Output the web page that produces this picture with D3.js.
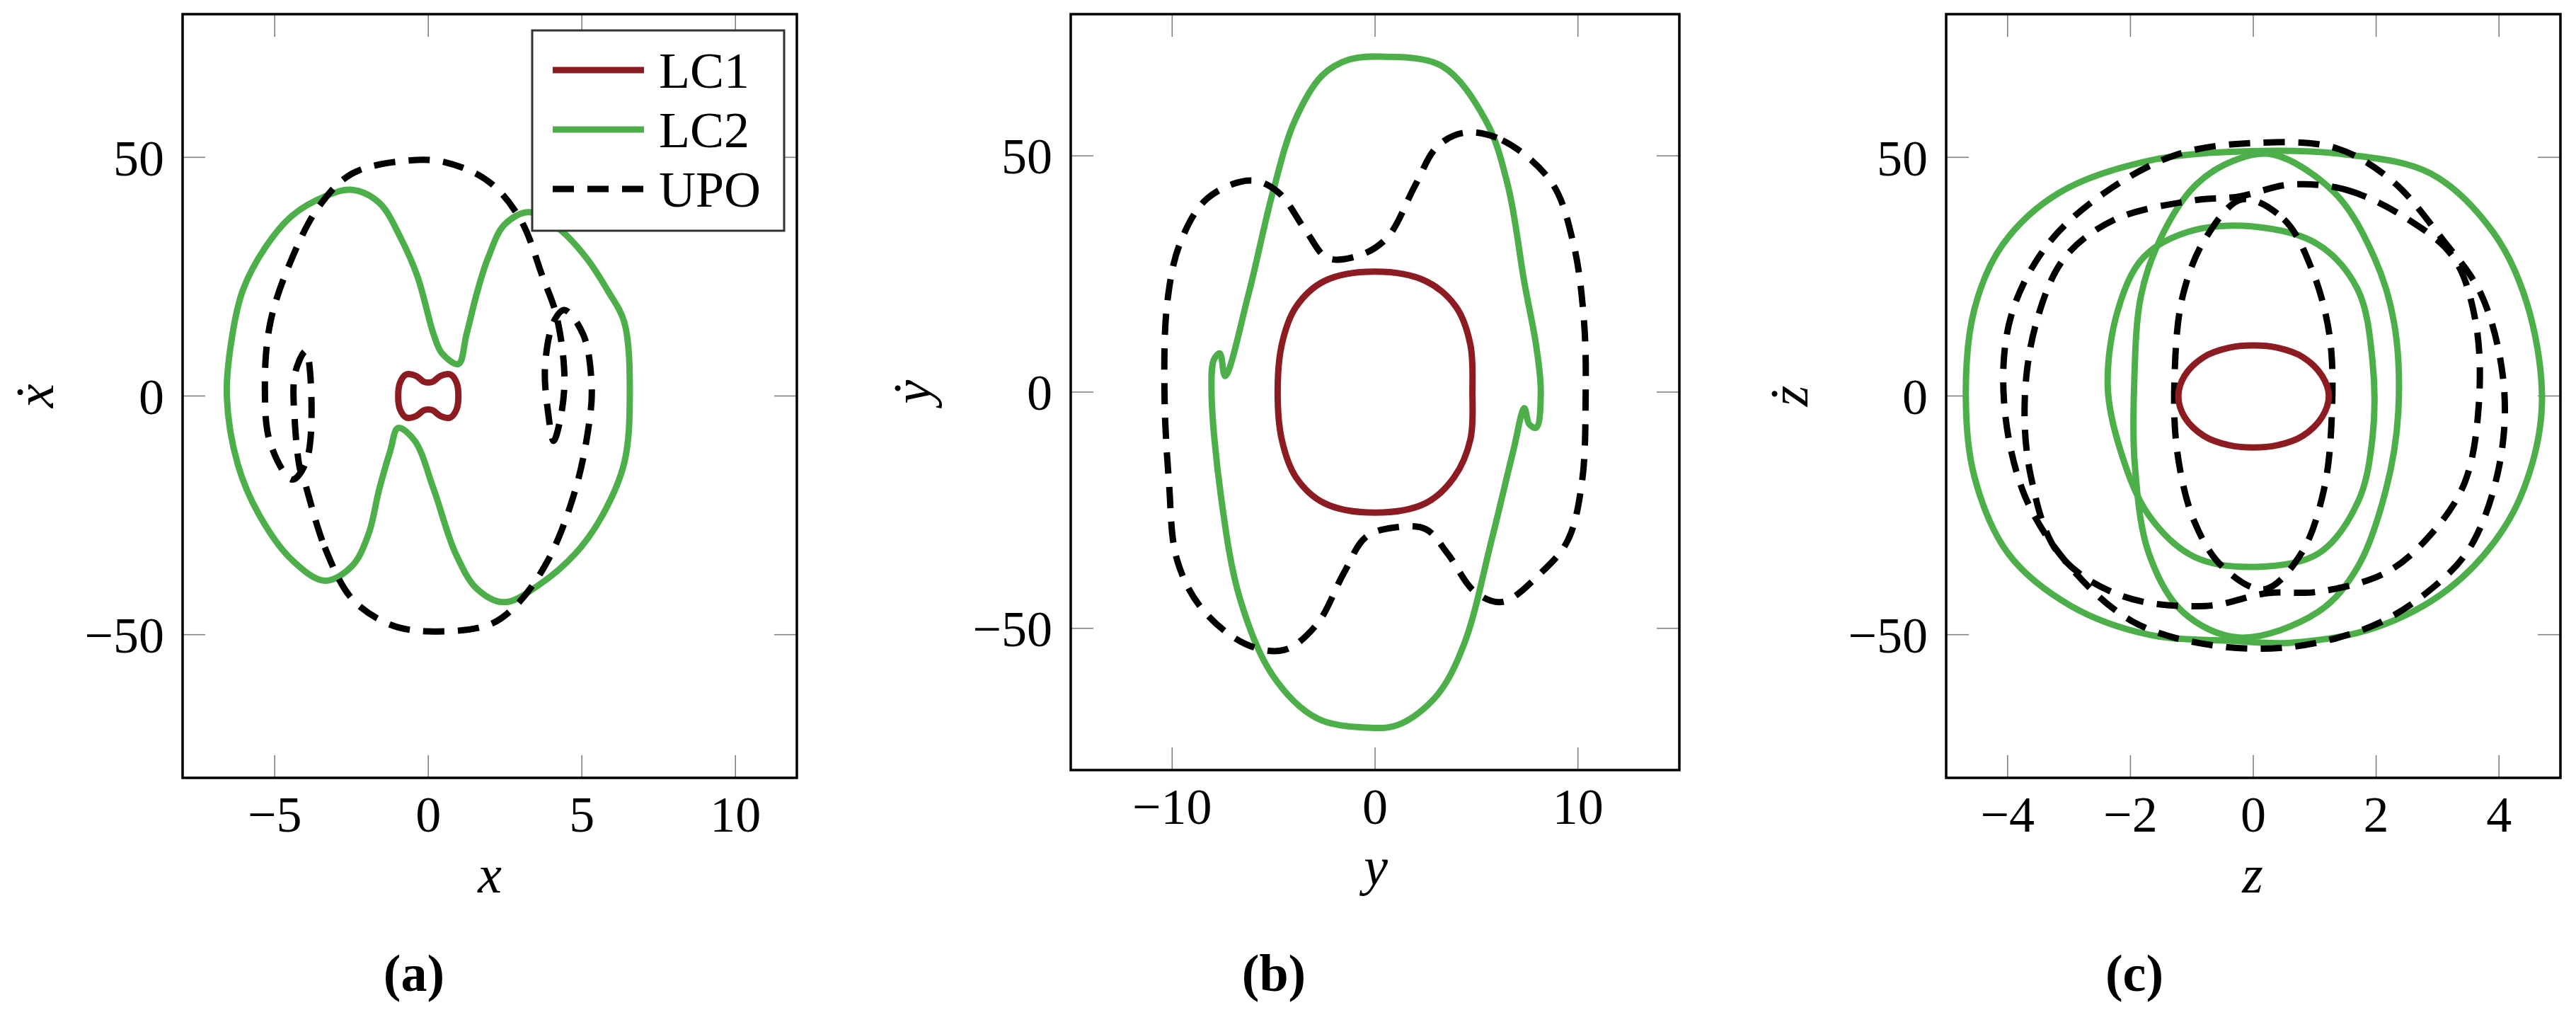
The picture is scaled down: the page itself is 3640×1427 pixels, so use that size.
<!DOCTYPE html>
<html>
<head>
<meta charset="utf-8">
<script src="https://cdn.jsdelivr.net/npm/d3@7"></script>
<style>
  body { margin: 0; background: #fff; }
  text { font-family: "Liberation Serif", "DejaVu Serif", serif; fill: #000; }
</style>
</head>
<body>
<svg id="chart" width="3640" height="1427"></svg>
<script>
// ---- data ----
const seriesNames = ['LC1', 'LC2', 'UPO'];

// panel (a): x vs x-dot
const aLC1 = [[[0.98,0],[0.92,2.8],[0.72,4.5],[0.4,4.2],[0.15,3],[0,2.8],[-0.15,3],[-0.4,4.2],[-0.72,4.5],[-0.92,2.8],
  [-0.98,0],[-0.92,-2.8],[-0.72,-4.5],[-0.4,-4.2],[-0.15,-3],[0,-2.8],[0.15,-3],[0.4,-4.2],[0.72,-4.5],[0.92,-2.8]]];
const aLC2 = [[[6.56,0],[6.38,15.5],[5.85,22],[5.14,29],[4.26,35],[3.28,38.5],[2.48,35.9],[1.95,29],[1.6,22],
  [1.24,12.8],[0.98,6.7],[0.44,9],[0.18,12.8],[-0.35,25],[-0.89,33],[-1.6,40.5],[-2.48,43.2],[-3.37,41.8],
  [-4.43,37.8],[-5.32,31],[-6.03,22.3],[-6.38,12.8],[-6.56,0],[-6.2,-14.4],[-5.5,-25],[-4.43,-34.4],
  [-3.37,-38.7],[-2.48,-35.6],[-1.95,-29],[-1.6,-19.6],[-1.24,-11.5],[-0.98,-6.7],[-0.44,-9.4],[0.18,-19.6],
  [0.89,-33],[1.6,-40.5],[2.48,-43.2],[3.55,-39.8],[4.79,-33],[5.67,-25],[6.38,-14]]];
const aUPO = [[[-4.08,-16.9],[-3.37,-31.7],[-2.48,-42.5],[-1.24,-47.9],[0,-49.3],[1.95,-48],[2.84,-44],
  [3.9,-34.4],[4.79,-19.6],[5.23,-6],[5.32,2],[5.05,12.8],[4.43,18],[4.08,15.5],[3.8,6],[3.9,-3.4],
  [4.08,-9.4],[4.34,-3.4],[4.43,4.7],[4.17,16.9],[3.72,25],[3.0,37],[1.95,45],[0.53,49],[-0.7,49.3],
  [-2.48,46.6],[-3.55,39.8],[-4.43,29],[-5.14,15.5],[-5.32,2],[-5.14,-10],[-4.43,-17.5],[-3.99,-14],
  [-3.8,-3.4],[-3.99,9.4],[-4.34,4.7],[-4.34,-6],[-4.17,-15.5]]];

// panel (b): y vs y-dot
const bLC1 = [[[4.8,0],[4.7,10],[4.0,18],[2.5,23.5],[0,25.5],[-2.5,23.5],[-3.9,18],[-4.6,10],[-4.8,0],
  [-4.6,-10],[-3.9,-18],[-2.5,-23.5],[0,-25.5],[2.5,-23.5],[3.9,-18],[4.7,-10]]];
const bLC2 = [[[0.35,71],[3.3,69],[5.47,57.4],[6.55,43.7],[7.36,23.2],[7.95,9.6],[8.17,0],[7.95,-7.5],
  [7.6,-6.8],[7.36,-3.4],[6.82,-12.3],[5.74,-31.4],[4.39,-53.3],[3.05,-64.2],[1.16,-70.4],[-0.46,-71],
  [-2.88,-69],[-5.04,-60],[-6.66,-43.7],[-7.6,-21.9],[-8.06,0],[-7.95,6.8],[-7.65,8.2],[-7.39,3.4],
  [-6.25,20.5],[-5.04,42.3],[-3.96,57.4],[-2.61,67],[-1.27,70.4]]];
const bUPO = [[[4.39,54.9],[6.28,53.3],[8.7,44.4],[9.78,31.4],[10.3,15],[10.38,-1.4],[10.2,-19],[9.5,-31.4],
  [8.17,-38.3],[6.28,-44.4],[4.93,-42.3],[3.58,-34.2],[2.5,-29],[0.89,-28.7],[-0.46,-30.7],[-1.54,-38.3],
  [-2.88,-49.2],[-4.5,-54.6],[-6.39,-53.3],[-8.54,-45.8],[-9.76,-35.5],[-10.16,-19],[-10.38,0],[-10.24,19],
  [-9.62,31.4],[-8.27,41],[-6.12,44.8],[-4.77,42.3],[-3.42,34.2],[-2.34,28.4],[-0.73,29],[0.62,32.8],
  [1.97,43.7],[3.05,51.9]]];

// panel (c): z vs z-dot
const cLC1 = [[[1.23,0],[1.12,4.2],[0.8,8.2],[0.4,10.1],[0,10.6],[-0.4,10.1],[-0.8,8.2],[-1.12,4.2],[-1.22,0],
  [-1.12,-4.4],[-0.8,-8.4],[-0.4,-10.3],[0,-10.8],[0.4,-10.3],[0.8,-8.4],[1.12,-4.4]]];
const cLC2 = [
  [[4.7,0],[4.45,19.6],[3.9,34.4],[2.89,46.6],[1.51,50.6],[0,51.3],[-1.7,49.3],[-3.17,42.5],[-4.08,31.7],
   [-4.54,18.2],[-4.68,0],[-4.54,-16.9],[-3.99,-33],[-2.98,-43.9],[-1.7,-50],[-0.32,-51.3],[0.6,-51.7],
   [1.97,-48.6],[3.17,-40.5],[4.08,-27.7],[4.54,-14.2]],
  [[0.32,50.6],[1.33,42.5],[1.97,29],[2.29,15.5],[2.36,-3.4],[2.16,-19.6],[1.7,-35.8],[1.06,-45.2],
   [-0.23,-50.6],[-1.15,-45.2],[-1.7,-33],[-1.93,-14.2],[-1.94,2],[-1.83,20.9],[-1.51,33],[-0.96,43.9],
   [-0.32,49.3]],
  [[0,35.5],[1.06,31.7],[1.7,22.3],[1.94,7.4],[1.94,-8.8],[1.7,-22.3],[1.06,-33],[0.05,-35.8],
   [-0.96,-33.7],[-1.7,-25],[-2.16,-11.5],[-2.37,2],[-2.2,18.2],[-1.79,29],[-1.06,34.4]]
];
const cUPO = [
  [[0,53],[1.33,52],[2.25,45.2],[3.07,33],[3.72,21],[4.08,2],[3.99,-15.5],[3.53,-31.7],[2.89,-40.5],
   [1.97,-48],[0.6,-52.6],[-0.78,-52],[-1.97,-47.2],[-2.98,-35.8],[-3.72,-20.9],[-4.06,-0.7],[-3.94,16.9],
   [-3.35,31.7],[-2.43,42.5],[-1.24,50.6]],
  [[0.6,44.3],[1.51,43.2],[2.52,37],[3.26,29],[3.62,15.5],[3.67,-2],[3.44,-18.2],[2.89,-29],[2.16,-37],
   [1.06,-41],[0.23,-41.3],[-0.78,-44],[-2.16,-41.8],[-3.17,-33],[-3.62,-16.9],[-3.72,-0.7],[-3.53,15.5],
   [-3.07,29],[-2.25,37],[-0.96,41],[-0.23,41.8]],
  [[-0.18,41.2],[0.5,37],[0.96,26.3],[1.24,12.8],[1.28,-3.4],[1.15,-19.6],[0.78,-33],[0.18,-40.5],
   [-0.5,-35.8],[-0.96,-26.3],[-1.24,-11.5],[-1.28,4.7],[-1.15,20.9],[-0.78,33]]
];

const aXTicks = [-5, 0, 5, 10];
const bXTicks = [-10, 0, 10];
const cXTicks = [-4, -2, 0, 2, 4];
const yTicks = [-50, 0, 50];

// ---- layout ----
const colors = { LC1: '#8c1c21', LC2: '#4daf4a', UPO: '#000' };
const panels = [
  { left: 258, right: 1126, top: 20, bottom: 1099, xDom: [-8, 12], xTicks: aXTicks,
    xLab: 'x', yLab: 'ẋ', yLabX: 52, xLabX: 692, cap: '(a)', capX: 585,
    curves: { LC2: aLC2, UPO: aUPO, LC1: aLC1 }, legend: true },
  { left: 1513, right: 2373, top: 20, bottom: 1088, xDom: [-15, 15], xTicks: bXTicks,
    xLab: 'y', yLab: 'ẏ', yLabX: 1292, xLabX: 1944, cap: '(b)', capX: 1800,
    curves: { LC2: bLC2, UPO: bUPO, LC1: bLC1 } },
  { left: 2750, right: 3618, top: 20, bottom: 1099, xDom: [-5, 5], xTicks: cXTicks,
    xLab: 'z', yLab: 'ż', yLabX: 2531, xLabX: 3183, cap: '(c)', capX: 3016,
    curves: { LC2: cLC2, UPO: cUPO, LC1: cLC1 } }
];

const svg = d3.select('#chart');
const fs = 72, tickLen = 32, lw = 9, dash = '30,19';

panels.forEach(p => {
  const x = d3.scaleLinear().domain(p.xDom).range([p.left, p.right]);
  const y = d3.scaleLinear().domain([-80, 80]).range([p.bottom, p.top]);
  const g = svg.append('g');

  const clipId = 'clip' + p.left;
  g.append('clipPath').attr('id', clipId).append('rect')
    .attr('x', p.left).attr('y', p.top).attr('width', p.right - p.left).attr('height', p.bottom - p.top);

  // ticks, inward on all four sides
  const tg = g.append('g').attr('stroke', '#808080').attr('stroke-width', 1.6);
  p.xTicks.forEach(t => {
    tg.append('line').attr('x1', x(t)).attr('x2', x(t)).attr('y1', p.bottom).attr('y2', p.bottom - tickLen);
    tg.append('line').attr('x1', x(t)).attr('x2', x(t)).attr('y1', p.top).attr('y2', p.top + tickLen);
  });
  yTicks.forEach(t => {
    tg.append('line').attr('y1', y(t)).attr('y2', y(t)).attr('x1', p.left).attr('x2', p.left + tickLen);
    tg.append('line').attr('y1', y(t)).attr('y2', y(t)).attr('x1', p.right).attr('x2', p.right - tickLen);
  });

  const line = d3.line().x(d => x(d[0])).y(d => y(d[1])).curve(d3.curveCatmullRomClosed.alpha(0.5));
  const cg = g.append('g').attr('clip-path', `url(#${clipId})`);
  ['LC2', 'UPO', 'LC1'].forEach(name => {
    p.curves[name].forEach(loop => {
      cg.append('path').attr('d', line(loop)).attr('fill', 'none')
        .attr('stroke', colors[name]).attr('stroke-width', lw)
        .attr('stroke-linejoin', 'round')
        .attr('stroke-dasharray', name === 'UPO' ? dash : null);
    });
  });

  g.append('rect').attr('x', p.left).attr('y', p.top)
    .attr('width', p.right - p.left).attr('height', p.bottom - p.top)
    .attr('fill', 'none').attr('stroke', '#000').attr('stroke-width', 3.5);

  const fmt = v => (v < 0 ? '\u2212' + Math.abs(v) : String(v));
  p.xTicks.forEach(t => {
    g.append('text').attr('x', x(t)).attr('y', p.bottom + 76).attr('text-anchor', 'middle')
      .attr('font-size', fs).text(fmt(t));
  });
  yTicks.forEach(t => {
    g.append('text').attr('x', p.left - 26).attr('y', y(t)).attr('dy', '0.35em')
      .attr('text-anchor', 'end').attr('font-size', fs).text(fmt(t));
  });

  g.append('text').attr('x', p.xLabX).attr('y', p.bottom + 162).attr('text-anchor', 'middle')
    .attr('font-size', fs + 4).attr('font-style', 'italic').text(p.xLab);
  g.append('text').attr('transform', `translate(${p.yLabX},${y(0)}) rotate(-90)`)
    .attr('dy', '0.3em').attr('text-anchor', 'middle')
    .attr('font-size', fs + 4).attr('font-style', 'italic').text(p.yLab);
  g.append('text').attr('x', p.capX).attr('y', 1400).attr('text-anchor', 'middle')
    .attr('font-size', 74).attr('font-weight', 'bold').text(p.cap);

  if (p.legend) {
    const lg = g.append('g');
    lg.append('rect').attr('x', 752).attr('y', 43).attr('width', 356).attr('height', 283)
      .attr('fill', '#fff').attr('stroke', '#333').attr('stroke-width', 3);
    seriesNames.forEach((name, i) => {
      const ly = 99 + i * 84;
      lg.append('line').attr('x1', 781).attr('x2', 910).attr('y1', ly).attr('y2', ly)
        .attr('stroke', colors[name]).attr('stroke-width', lw)
        .attr('stroke-dasharray', name === 'UPO' ? dash : null);
      lg.append('text').attr('x', 931).attr('y', ly).attr('dy', '0.35em')
        .attr('font-size', fs).text(name);
    });
  }
});
</script>
</body>
</html>
